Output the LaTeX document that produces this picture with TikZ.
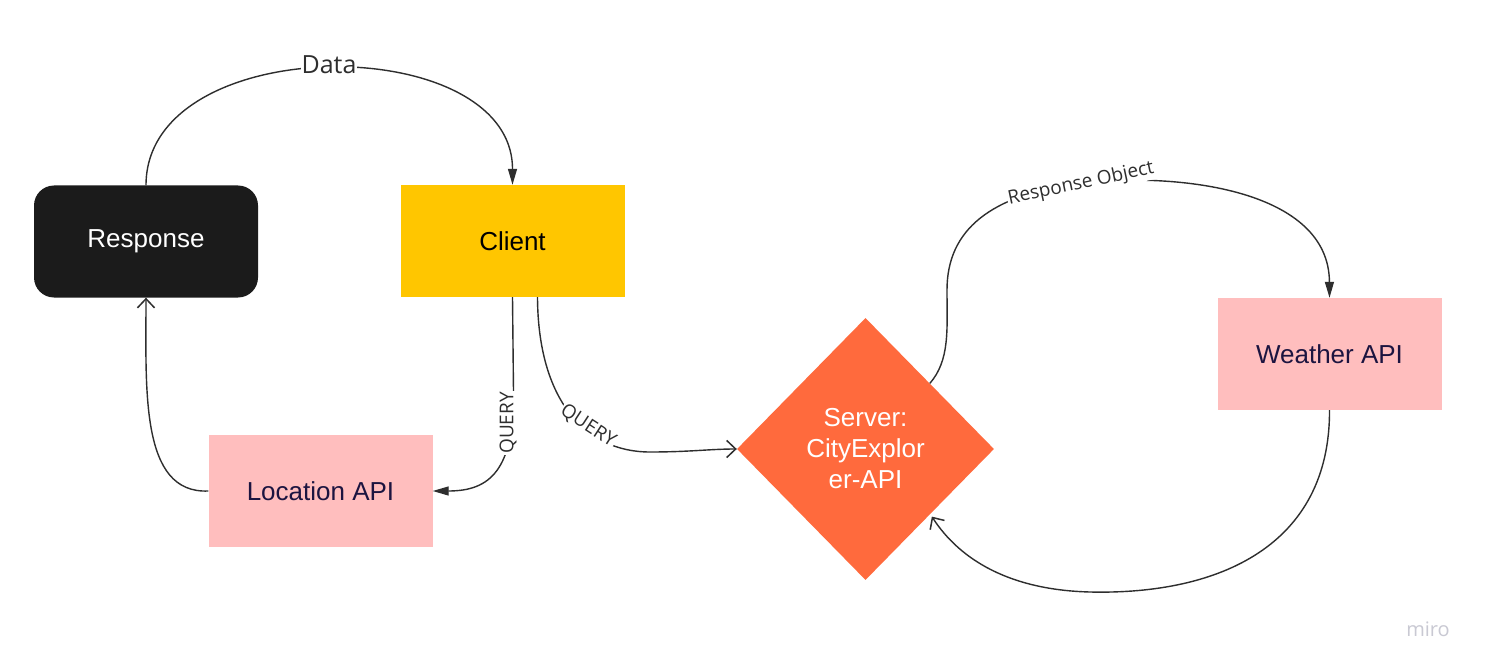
\documentclass[tikz,border=0pt]{standalone}
\usepackage{fontspec}
\setmainfont{Liberation Sans}
\newfontfamily\labelfont{Open Sans}
\usetikzlibrary{shapes.geometric,arrows.meta}
\definecolor{respblack}{HTML}{1B1B1B}
\definecolor{clientyellow}{HTML}{FFC600}
\definecolor{apipink}{HTML}{FFBEBE}
\definecolor{serverorange}{HTML}{FF6A3D}
\definecolor{navytext}{HTML}{1C1440}
\definecolor{linegrey}{HTML}{2E2E2E}
\definecolor{mirogrey}{HTML}{C9C9D3}
\tikzset{
  boxnode/.style={minimum width=224pt, minimum height=112pt, inner sep=0pt,
    font=\fontsize{26}{31}\selectfont},
  apinode/.style={boxnode, fill=apipink, text=navytext},
  conn/.style={draw=linegrey, line width=1.4pt},
  filledtip/.style={-{Triangle[length=16pt,width=9pt]}},
  opentip/.style={-{Straight Barb[length=9pt,width=17pt,line width=1.5pt]}},
  edgelabel/.style={fill=white, inner sep=1pt, text=linegrey},
}
\begin{document}
\begin{tikzpicture}[x=1pt,y=-1pt]
\useasboundingbox (0,0) rectangle (1488,671);
\fill[white] (0,0) rectangle (1488,671);

% nodes
\node[boxnode, fill=respblack, text=white, rounded corners=20pt] (response) at (146,241.5) {Response};
\node[boxnode, fill=clientyellow, text=black] (client) at (512.5,241) {Client};
\node[apinode] (location) at (320.5,491) {Location API};
\node[apinode] (weather) at (1329.5,354) {Weather API};
\node[diamond, fill=serverorange, text=white, minimum width=257pt, minimum height=262pt,
      inner sep=0pt, aspect=0.98, align=center, font=\fontsize{26}{31}\selectfont]
      (server) at (865.5,449) {Server:\\CityExplor\\er-API};

% connectors
\draw[conn, filledtip] (response.north) .. controls (146,30) and (512.5,30) .. (client.north);
\draw[conn, opentip] (location.west) .. controls (140,494) and (146,390) .. (response.south);
\draw[conn, filledtip] (client.south) -- (513.5,392) .. controls (514,470) and (490,491) .. (location.east);
\draw[conn, opentip] ([xshift=25pt]client.south) .. controls (538,400) and (585,452) .. (650,452)
   .. controls (690,452) and (710,449) .. (server.west);
\draw[conn, filledtip] (server.north east) .. controls (950,360) and (947,330) .. (947,290)
   .. controls (947,230) and (990,195) .. (1080,183)
   .. controls (1180,172) and (1329,190) .. (weather.north);
\draw[conn, opentip] (weather.south) .. controls (1330,545) and (1220,595) .. (1090,592)
   .. controls (1010,590) and (960,560) .. ([xshift=2pt,yshift=-2pt]server.south east);

% labels
\node[edgelabel, font=\labelfont\fontsize{25}{25}\selectfont] (datalbl) at (329,65) {Data};
\node[edgelabel, font=\labelfont\fontsize{19}{19}\selectfont, rotate=90] (query1) at (508,423) {QUERY};
\node[edgelabel, font=\labelfont\fontsize{19}{19}\selectfont, rotate=-33] (query2) at (588,426) {QUERY};
\node[edgelabel, font=\labelfont\fontsize{19}{19}\selectfont, rotate=12] (resobj) at (1081,184) {Response Object};

% watermark
\node[text=mirogrey, font=\labelfont\fontsize{20}{20}\selectfont] (miro) at (1428,629) {miro};
\end{tikzpicture}
\end{document}
